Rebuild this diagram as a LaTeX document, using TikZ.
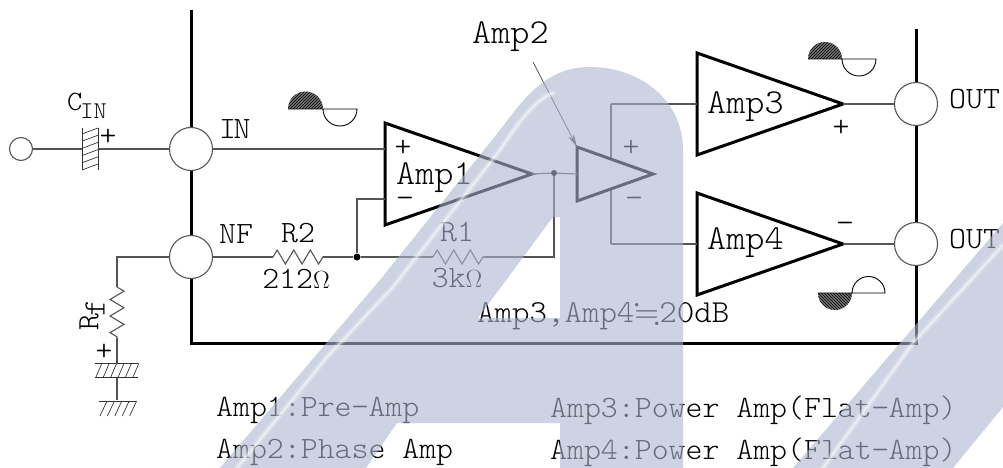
\documentclass[tikz,border=0pt]{standalone}
\usepackage{amssymb}
\usepackage{fontspec}
\setmonofont[FakeStretch=1.04]{Latin Modern Mono Light}
\usetikzlibrary{shapes.geometric,patterns,decorations.pathmorphing,arrows.meta}
\definecolor{wire}{HTML}{555555}
\definecolor{wmark}{HTML}{ADB5D0}
\tikzset{
    lbl/.style={inner sep=0pt,font=\fontsize{31}{33}\selectfont\ttfamily,text=black},
    amplbl/.style={lbl,anchor=west,font=\fontsize{35}{37}\selectfont\ttfamily},
    pad/.style={circle,draw=wire,fill=white,line width=1.1pt,minimum size=43pt,inner sep=0pt},
    port/.style={circle,draw=wire,fill=white,line width=1.1pt,minimum size=23pt,inner sep=0pt},
    amptri/.style={isosceles triangle,isosceles triangle stretches,draw=black,fill=white,line width=3pt,inner sep=0pt,outer sep=0pt,anchor=lower side},
    bus/.style={line width=3pt,draw=black},
    thin wire/.style={line width=1.1pt,draw=wire},
    dot/.style={circle,fill=black,minimum size=7pt,inner sep=0pt},
    res/.style={thin wire,decorate,decoration={zigzag,segment length=16.6pt,amplitude=7pt}},
    hatch/.style={line width=0.7pt,draw=black!80}
}
\begin{document}
\begin{tikzpicture}[x=1pt,y=-1pt]
        \useasboundingbox (0,0) rectangle (1003,468);
        % wires first, the amplifiers sit on them
        \coordinate (toptl) at (191,10);
        \coordinate (toptr) at (916,29);
        \coordinate (botl) at (191,343);
        \coordinate (botr) at (916,343);
        \draw[bus] (toptl) -- (botl) -- (botr) -- (toptr);
        \coordinate (split1) at (611,104);
        \coordinate (split2) at (611,244);
        \coordinate (fb1) at (357,199);
        \coordinate (r2a) at (273,257);
        \coordinate (r2b) at (323,257);
        \coordinate (r1a) at (433,257);
        \coordinate (r1b) at (484,257);
        \coordinate (r1c) at (554,257);
        \coordinate (rfa) at (117,257);
        \coordinate (rfb) at (117,287);
        \coordinate (rfc) at (117,338);
        \coordinate (capfa) at (117,363);
        \coordinate (capfb) at (117,377);
        \coordinate (gnd) at (117,400);
        \coordinate (capa) at (82,149);
        \coordinate (capb) at (98,149);

        \node[pad] (in) at (191,149) {};
        \node[pad] (nf) at (191,257) {};
        \node[pad] (out1) at (916,104) {};
        \node[pad] (out2) at (916,244) {};
        \node[port] (src) at (21,149) {};
        \node[dot] (jn1) at (357,257) {};
        \node[dot,minimum size=6pt] (jn2) at (554,173) {};

        \draw[thin wire] (split1) -- (split2);
        \node[amptri,minimum width=102pt,minimum height=147pt] (amp1) at (385,174) {};
        \node[amptri,minimum width=54pt,minimum height=76pt] (amp2) at (577,174) {};
        \node[amptri,minimum width=102pt,minimum height=146pt] (amp3) at (697,104) {};
        \node[amptri,minimum width=102pt,minimum height=146pt] (amp4) at (697,244) {};

        \draw[thin wire] (src) -- (capa);
        \draw[thin wire] (capb) -- (in);
        \draw[thin wire] (in) -- (amp1.lower side |- in);
        \draw[thin wire] (amp1.lower side |- fb1) -- (fb1) -- (jn1);
        \draw[thin wire] (nf) -- (r2a);
        \draw[res] (r2a) -- (r2b);
        \draw[thin wire] (r2b) -- (jn1) -- (r1a);
        \draw[res] (r1a) -- (r1b);
        \draw[thin wire] (r1b) -- (r1c) -- (jn2);
        \draw[thin wire] (amp1.apex) -- (jn2) -- (amp2.lower side);
        \draw[thin wire] (split1) -- (amp3.lower side);
        \draw[thin wire] (split2) -- (amp4.lower side);
        \draw[thin wire] (amp3.apex) -- (out1);
        \draw[thin wire] (amp4.apex) -- (out2);
        \draw[thin wire] (nf) -- (rfa) -- (rfb);
        \draw[res] (rfb) -- (rfc);
        \draw[thin wire] (rfc) -- (capfa);
        \draw[thin wire] (capfb) -- (gnd);

        % capacitors and ground
        \draw[hatch] (82,128) -- (82,170);
        \draw[hatch] (98,128) -- (98,170);
        \foreach \i in {0,...,5} {
            \draw[hatch] (82,134+\i*7.2) -- (98,128+\i*7.2);
        }
        \draw[hatch] (95,377) -- (138,377);
        \draw[hatch] (95,363) -- (138,363);
        \foreach \i in {0,...,5} {
            \draw[hatch] (96+\i*7.4,377) -- (102+\i*7.4,363);
        }
        \draw[hatch] (99,401) -- (136,401);
        \foreach \i in {0,...,4} {
            \draw[hatch] (100+\i*7.4,416) -- (107+\i*7.4,401);
        }

        % half waves
        \fill[black!55] (288,109) arc[start angle=180,end angle=0,radius=17.5pt] -- cycle;
        \fill[pattern=north east lines,pattern color=black] (288,109) arc[start angle=180,end angle=0,radius=17.5pt] -- cycle;
        \draw[line width=0.9pt] (288,109) -- (357,109) arc[start angle=0,end angle=-180,radius=17pt];
        \fill[black!55] (808,59) arc[start angle=180,end angle=0,radius=17pt] -- cycle;
        \fill[pattern=north east lines,pattern color=black] (808,59) arc[start angle=180,end angle=0,radius=17pt] -- cycle;
        \draw[line width=0.9pt] (808,59) -- (876,59) arc[start angle=0,end angle=-180,radius=17pt];
        \fill[black!55] (818,293) arc[start angle=180,end angle=360,radius=17pt] -- cycle;
        \fill[pattern=north west lines,pattern color=black] (818,293) arc[start angle=180,end angle=360,radius=17pt] -- cycle;
        \draw[line width=0.9pt] (818,293) -- (885,293) arc[start angle=0,end angle=180,radius=16.5pt];

        % labels
        \node[lbl,anchor=west] (t_in) at (219,129) {I\kern-2.5pt N};
        \node[lbl,anchor=west] (t_nf) at (219,234) {NF};
        \node[lbl,anchor=west] (t_out1) at (949,99) {OUT};
        \node[lbl,anchor=west] (t_out2) at (949,239) {OUT};
        \node[lbl] (t_r2) at (298,233) {R2};
        \node[lbl] (t_r2v) at (296,279) {212$\Omega$};
        \node[lbl] (t_r1) at (457,232) {R1};
        \node[lbl] (t_r1v) at (457,278) {3k$\Omega$};
        \node[amplbl] (t_amp1) at (396,178) {Amp1};
        \node[amplbl] (t_amp2) at (472,37) {Amp2};
        \node[amplbl] (t_amp3) at (707,107) {Amp3};
        \node[amplbl] (t_amp4) at (707,243) {Amp4};
        \node[lbl,anchor=west,font=\fontsize{28}{30}\selectfont\ttfamily] (t_cin) at (67,106) {C\kern-2pt\raisebox{-0.3em}{\fontsize{24}{26}\selectfont IN}};
        \node[lbl,rotate=90] (t_rf) at (92,315) {R\kern-2pt\raisebox{-0.2em}{f}};
        \node[lbl] (p1) at (108,137) {+};
        \node[lbl] (p2) at (104,352) {+};
        \node[lbl] (p3) at (403,148) {+};
        \node[lbl] (m3) at (405,202) {−};
        \node[lbl] (p4) at (631,148) {+};
        \node[lbl] (m4) at (634,202) {−};
        \node[lbl] (p5) at (841,128) {+};
        \node[lbl] (m5) at (845,227) {−};
        \node[lbl,anchor=west,font=\fontsize{32}{34}\selectfont\ttfamily] (t_gain) at (477,316) {Amp3,Amp4$\fallingdotseq$20dB};
        \node[lbl,anchor=west] (t_leg1) at (216,410) {Amp1:Pre−Amp};
        \node[lbl,anchor=west] (t_leg2) at (216,452) {Amp2:Phase Amp};
        \node[lbl,anchor=west] (t_leg3) at (550,410) {Amp3:Power Amp(Flat−Amp)};
        \node[lbl,anchor=west] (t_leg4) at (550,452) {Amp4:Power Amp(Flat−Amp)};

        \coordinate (lead) at (533,62);
        \draw[line width=0.8pt,draw=wire,-{Stealth[length=13pt,width=6pt]}] (lead) -- (amp2.left corner);

        % the logo lies over everything
        \fill[wmark,opacity=0.6,even odd rule]
            (220,468) -- (380,280) -- (500,130)
            .. controls (523,100) and (545,67) .. (590,67)
            .. controls (640,67) and (683,100) .. (683,150)
            -- (683,468) -- (560,468) -- (560,423) -- (397,423) -- (366,468) -- cycle
            (553,217) -- (560,217) -- (560,318) -- (478,318) -- cycle;
        \fill[wmark,opacity=0.6] (1003,223) -- (793,468) -- (953,468) -- (1003,407) -- cycle;
        \draw[white,opacity=0.25,line width=6pt,line cap=round] (237,468) -- (327,357) -- (393,287) -- (500,150) .. controls (520,120) and (535,100) .. (553,93);
        \draw[white,opacity=0.5,line width=2pt,line cap=round] (237,468) -- (327,357) -- (393,287) -- (500,150) .. controls (520,120) and (535,100) .. (553,93);
        \draw[white,opacity=0.25,line width=6pt,line cap=round] (823,468) -- (913,343) -- (1003,245);
        \draw[white,opacity=0.5,line width=2pt,line cap=round] (823,468) -- (913,343) -- (1003,245);
    \end{tikzpicture}
\end{document}
